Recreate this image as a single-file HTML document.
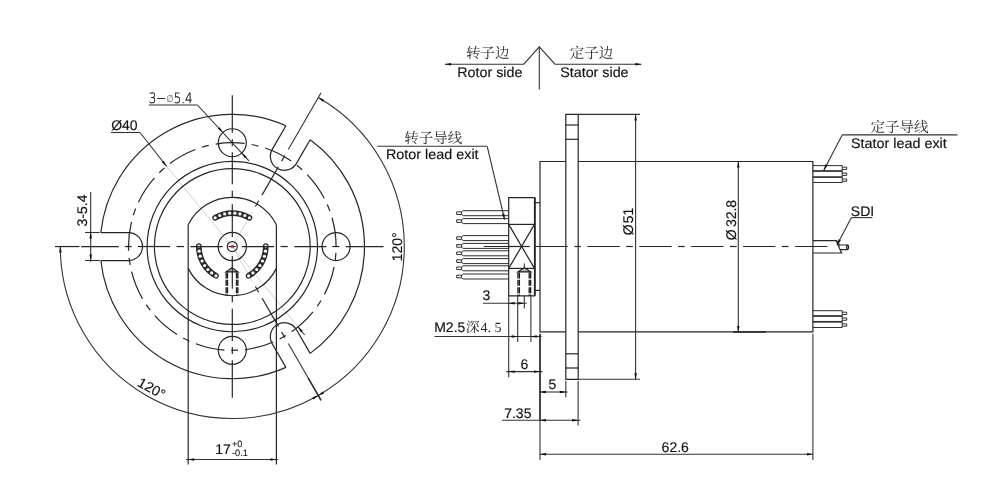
<!DOCTYPE html>
<html lang="zh">
<head>
<meta charset="utf-8">
<title>Slip ring outline drawing</title>
<style>
html,body{margin:0;padding:0;background:#fff;}
body{width:981px;height:487px;overflow:hidden;}
svg{display:block;will-change:transform;}
text{text-rendering:geometricPrecision;}
.o{fill:none;stroke:#262626;stroke-width:1.2;}
.d{fill:none;stroke:#333;stroke-width:1.1;}
.c{fill:none;stroke:#262626;stroke-width:1.2;}
.w{fill:none;stroke:#2e2e2e;stroke-width:1;}
.g{fill:none;stroke:#b4b4b4;stroke-width:.6;}
.h{fill:none;stroke:#1a1a1a;stroke-width:1.35;stroke-dasharray:6 1.4;}
.h2{fill:none;stroke:#1a1a1a;stroke-width:1.3;stroke-dasharray:6 1.4;}
.cone{fill:#bbb;stroke:#1a1a1a;stroke-width:1.1;stroke-linejoin:miter;}
.ah{fill:#111;stroke:none;}
.bead{fill:none;stroke:#2a2a2a;stroke-width:5.7;stroke-linecap:round;}
.bd{fill:#fff;stroke:none;}
.t{font-family:"Liberation Sans",sans-serif;font-size:14px;fill:#111;stroke:#111;stroke-width:.15;}
.ts{font-family:"Liberation Sans",sans-serif;font-size:9.2px;fill:#111;stroke:#111;stroke-width:.1;}
.tc{font-family:"DejaVu Sans","Liberation Sans",sans-serif;font-weight:200;font-size:14.2px;fill:#111;stroke:#111;stroke-width:.3;}
.tz{font-family:"Liberation Serif","Noto Serif CJK SC",serif;font-size:14.5px;fill:#2a2a2a;font-weight:400;stroke:none;}
.tm{font-family:"Liberation Serif","Noto Serif CJK SC",serif;font-size:14px;fill:#2a2a2a;font-weight:400;stroke:none;}
.tm2{font-family:"Liberation Serif","Noto Serif CJK SC",serif;font-size:14px;fill:#2a2a2a;stroke:none;}
</style>
</head>
<body>
<svg width="981" height="487" viewBox="0 0 981 487">
<rect x="0" y="0" width="981" height="487" fill="#fff"/>
<g id="left-view">
<line class="g" x1="166.56" y1="166.23" x2="298.04" y2="326.87"/>
<line class="g" x1="232.3" y1="246.55" x2="252.3" y2="211.91"/>
<line class="g" x1="232.3" y1="246.55" x2="252.3" y2="281.19"/>
<path class="o" d="M285.9 125.71 A132.2 132.2 0 0 0 100.84 232.55"/>
<path class="o" d="M100.84 260.55 A132.2 132.2 0 0 0 285.9 367.39"/>
<path class="o" d="M310.15 353.39 A132.2 132.2 0 0 0 310.15 139.71"/>
<path class="o" d="M310.15 139.71 L296.32 163.66 A14 14 0 0 1 272.08 149.66 L285.9 125.71"/>
<path class="o" d="M100.84 232.55 L128.5 232.55 A14 14 0 0 1 128.5 260.55 L100.84 260.55"/>
<path class="o" d="M285.9 367.39 L272.08 343.44 A14 14 0 0 1 296.32 329.44 L310.15 353.39"/>
<circle class="o" cx="232.3" cy="142.75" r="14"/>
<circle class="o" cx="336.1" cy="246.55" r="14"/>
<circle class="o" cx="232.3" cy="350.35" r="14"/>
<circle class="o" cx="232.3" cy="246.55" r="85.2"/>
<circle class="o" cx="232.3" cy="246.55" r="77.9"/>
<path class="c" d="M336.1 246.55 A103.8 103.8 0 1 0 128.5 246.55 A103.8 103.8 0 1 0 336.1 246.55" stroke-dasharray="29.17 7 7 7"/>
<path class="o" d="M188.2 224.74 A49.2 49.2 0 0 1 276.4 224.74"/>
<path class="o" d="M188.2 268.36 A49.2 49.2 0 0 0 276.4 268.36"/>
<line class="o" x1="188.2" y1="224.74" x2="188.2" y2="464.5"/>
<line class="o" x1="276.4" y1="224.74" x2="276.4" y2="464.5"/>
<circle class="o" cx="232.3" cy="246.55" r="14.1"/>
<path class="bead" d="M249.45 217.77 A33.5 33.5 0 0 0 215.15 217.77"/>
<circle class="bd" cx="249.45" cy="217.77" r="1.6"/>
<circle class="bd" cx="244.85" cy="215.49" r="1.6"/>
<circle class="bd" cx="239.95" cy="213.94" r="1.6"/>
<circle class="bd" cx="234.87" cy="213.15" r="1.6"/>
<circle class="bd" cx="229.73" cy="213.15" r="1.6"/>
<circle class="bd" cx="224.65" cy="213.94" r="1.6"/>
<circle class="bd" cx="219.75" cy="215.49" r="1.6"/>
<circle class="bd" cx="215.15" cy="217.77" r="1.6"/>
<path class="bead" d="M198.8 246.08 A33.5 33.5 0 0 0 215.96 275.79"/>
<circle class="bd" cx="198.8" cy="246.08" r="1.6"/>
<circle class="bd" cx="199.13" cy="251.21" r="1.6"/>
<circle class="bd" cx="200.23" cy="256.23" r="1.6"/>
<circle class="bd" cx="202.09" cy="261.02" r="1.6"/>
<circle class="bd" cx="204.66" cy="265.48" r="1.6"/>
<circle class="bd" cx="207.88" cy="269.48" r="1.6"/>
<circle class="bd" cx="211.68" cy="272.95" r="1.6"/>
<circle class="bd" cx="215.96" cy="275.79" r="1.6"/>
<path class="bead" d="M248.64 275.79 A33.5 33.5 0 0 0 265.8 246.08"/>
<circle class="bd" cx="248.64" cy="275.79" r="1.6"/>
<circle class="bd" cx="252.92" cy="272.95" r="1.6"/>
<circle class="bd" cx="256.72" cy="269.48" r="1.6"/>
<circle class="bd" cx="259.94" cy="265.48" r="1.6"/>
<circle class="bd" cx="262.51" cy="261.02" r="1.6"/>
<circle class="bd" cx="264.37" cy="256.23" r="1.6"/>
<circle class="bd" cx="265.47" cy="251.21" r="1.6"/>
<circle class="bd" cx="265.8" cy="246.08" r="1.6"/>
<line class="h" x1="226.15" y1="272.4" x2="226.15" y2="295.25"/>
<line class="h" x1="237.85" y1="272.4" x2="237.85" y2="295.25"/>
<line class="h2" x1="227.5" y1="272.4" x2="227.5" y2="295.25"/>
<line class="h2" x1="236.5" y1="272.4" x2="236.5" y2="295.25"/>
<polygon class="cone" points="232,267.7 225.95,271.9 238.05,271.9"/>
<line class="c" x1="55" y1="246.55" x2="79.4" y2="246.55"/>
<line class="c" x1="81.2" y1="246.55" x2="118.8" y2="246.55"/>
<line class="c" x1="124.9" y1="246.55" x2="131.7" y2="246.55"/>
<line class="c" x1="138" y1="246.55" x2="170" y2="246.55"/>
<line class="c" x1="176.6" y1="246.55" x2="184" y2="246.55"/>
<line class="c" x1="190.4" y1="246.55" x2="222.6" y2="246.55"/>
<line class="c" x1="228.6" y1="246.55" x2="235.6" y2="246.55"/>
<line class="c" x1="241.8" y1="246.55" x2="274" y2="246.55"/>
<line class="c" x1="280.6" y1="246.55" x2="287.8" y2="246.55"/>
<line class="c" x1="294.3" y1="246.55" x2="326.4" y2="246.55"/>
<line class="c" x1="332.4" y1="246.55" x2="339.4" y2="246.55"/>
<line class="c" x1="345.7" y1="246.55" x2="383.5" y2="246.55"/>
<line class="c" x1="232.3" y1="95.15" x2="232.3" y2="132.75"/>
<line class="c" x1="232.3" y1="139.15" x2="232.3" y2="146.15"/>
<line class="c" x1="232.3" y1="152.15" x2="232.3" y2="184.35"/>
<line class="c" x1="232.3" y1="190.75" x2="232.3" y2="197.75"/>
<line class="c" x1="232.3" y1="204.35" x2="232.3" y2="237.05"/>
<line class="c" x1="232.3" y1="256.05" x2="232.3" y2="288.75"/>
<line class="c" x1="232.3" y1="295.35" x2="232.3" y2="302.35"/>
<line class="c" x1="232.3" y1="308.75" x2="232.3" y2="340.95"/>
<line class="c" x1="232.3" y1="346.95" x2="232.3" y2="353.95"/>
<line class="c" x1="232.3" y1="360.35" x2="232.3" y2="397.75"/>
<circle class="o" cx="232.3" cy="246.55" r="5" fill="#fff"/>
<circle class="o" cx="232.3" cy="246.55" r="1.3" style="fill:#c8304e;stroke:#7a2a3a;stroke-width:.5"/>
<line class="c" x1="255.4" y1="206.54" x2="258.7" y2="200.82"/>
<line class="c" x1="262" y1="195.11" x2="278.4" y2="166.7"/>
<line class="c" x1="281.6" y1="161.16" x2="284.9" y2="155.44"/>
<line class="d" x1="288.3" y1="149.56" x2="321.05" y2="92.83"/>
<line class="c" x1="255.4" y1="286.56" x2="258.7" y2="292.28"/>
<line class="c" x1="262" y1="297.99" x2="278.4" y2="326.4"/>
<line class="c" x1="281.6" y1="331.94" x2="284.9" y2="337.66"/>
<line class="d" x1="288.3" y1="343.54" x2="321.05" y2="400.27"/>
<line class="d" x1="308.3" y1="378.19" x2="321.05" y2="400.27" style="stroke-width:1.5"/>
<path class="d" d="M318.3 395.51 A172 172 0 0 0 318.3 97.59"/>
<path class="d" d="M60.3 246.55 A172 172 0 0 0 318.3 395.51"/>
<polygon class="ah" points="317.87,97.34 324.06,99.67 322.82,101.72"/>
<polygon class="ah" points="317.87,395.76 322.82,391.38 324.06,393.43"/>
<polygon class="ah" points="60.29,246.05 61.61,252.53 59.22,252.57"/>
<polygon class="ah" points="318.74,395.26 313.63,399.46 312.47,397.36"/>
<text class="t" x="0" y="0" transform="translate(401.6 261.2) rotate(-90)">120°</text>
<text class="t" x="0" y="0" transform="translate(136.6 385.4) rotate(29.5)">120°</text>
<line class="d" x1="85" y1="232.5" x2="99.8" y2="232.5"/>
<line class="d" x1="85" y1="260.5" x2="99.8" y2="260.5"/>
<line class="d" x1="90.7" y1="192" x2="90.7" y2="261.8"/>
<polygon class="ah" points="90.7,232 91.9,238.5 89.5,238.5"/>
<polygon class="ah" points="90.7,261 89.5,254.5 91.9,254.5"/>
<text class="t" x="0" y="0" transform="translate(87.4 226.4) rotate(-90)">3-5.4</text>
<line class="d" x1="111" y1="132.5" x2="140" y2="132.5"/>
<line class="d" x1="140" y1="132.5" x2="166.56" y2="166.23"/>
<polygon class="ah" points="166.87,166.61 161.83,162.34 163.68,160.82"/>
<line class="d" x1="298.04" y1="326.87" x2="304.7" y2="335"/>
<polygon class="ah" points="297.73,326.49 302.77,330.76 300.92,332.28"/>
<text class="t" x="111.2" y="129.6">Ø40</text>
<line class="d" x1="148.8" y1="105" x2="197.5" y2="105"/>
<line class="d" x1="197.5" y1="105" x2="248.91" y2="160.76"/>
<polygon class="ah" points="223.15,132.82 217.86,128.86 219.63,127.23"/>
<polygon class="ah" points="241.45,152.68 246.74,156.64 244.97,158.27"/>
<text class="tc" x="148.8" y="102.5" textLength="43.8" lengthAdjust="spacingAndGlyphs">3−<tspan font-size="10" dy="-0.6" style="fill:#555;stroke:none">∅</tspan><tspan dy="0.6">5.4</tspan></text>
<line class="d" x1="186" y1="459.5" x2="278.2" y2="459.5"/>
<polygon class="ah" points="187.7,459.5 194.2,458.3 194.2,460.7"/>
<polygon class="ah" points="276.9,459.5 270.4,460.7 270.4,458.3"/>
<text class="t" x="215.2" y="453.8">17</text>
<text class="ts" x="232" y="447">+0</text>
<text class="ts" x="232" y="456.3">-0.1</text>
</g>
<g id="side-view">
<line class="c" x1="483.7" y1="246.5" x2="529.5" y2="246.5"/>
<line class="c" x1="535.5" y1="246.5" x2="567.8" y2="246.5"/>
<line class="c" x1="574.3" y1="246.5" x2="580.9" y2="246.5"/>
<line class="c" x1="587.4" y1="246.5" x2="619.7" y2="246.5"/>
<line class="c" x1="626.2" y1="246.5" x2="632.8" y2="246.5"/>
<line class="c" x1="639.3" y1="246.5" x2="671.6" y2="246.5"/>
<line class="c" x1="678.1" y1="246.5" x2="684.7" y2="246.5"/>
<line class="c" x1="691.2" y1="246.5" x2="723.5" y2="246.5"/>
<line class="c" x1="730" y1="246.5" x2="736.6" y2="246.5"/>
<line class="c" x1="743.1" y1="246.5" x2="775.4" y2="246.5"/>
<line class="c" x1="781.9" y1="246.5" x2="788.5" y2="246.5"/>
<line class="c" x1="795" y1="246.5" x2="827.3" y2="246.5"/>
<path class="w" d="M508.7 210.7 H463.2 L461.6 211.9 V214.5 L463.2 215.7 H508.7"/>
<path class="w" d="M461.6 211.9 H456.7 V214.5 H461.6"/>
<path class="w" d="M508.7 218.6 H463.2 L461.6 219.8 V222.4 L463.2 223.6 H508.7"/>
<path class="w" d="M461.6 219.8 H456.7 V222.4 H461.6"/>
<path class="w" d="M508.7 235.6 H463.2 L461.6 236.8 V239.4 L463.2 240.6 H508.7"/>
<path class="w" d="M461.6 236.8 H456.7 V239.4 H461.6"/>
<path class="w" d="M508.7 243.4 H463.2 L461.6 244.6 V247.2 L463.2 248.4 H508.7"/>
<path class="w" d="M461.6 244.6 H456.7 V247.2 H461.6"/>
<path class="w" d="M508.7 250.8 H463.2 L461.6 252 V254.6 L463.2 255.8 H508.7"/>
<path class="w" d="M461.6 252 H456.7 V254.6 H461.6"/>
<path class="w" d="M508.7 258.6 H463.2 L461.6 259.8 V262.4 L463.2 263.6 H508.7"/>
<path class="w" d="M461.6 259.8 H456.7 V262.4 H461.6"/>
<path class="w" d="M508.7 265.8 H463.2 L461.6 267 V269.6 L463.2 270.8 H508.7"/>
<path class="w" d="M461.6 267 H456.7 V269.6 H461.6"/>
<path class="w" d="M508.7 274 H463.2 L461.6 275.2 V277.8 L463.2 279 H508.7"/>
<path class="w" d="M461.6 275.2 H456.7 V277.8 H461.6"/>
<path class="o" d="M508.7 197.6 H534.5 V295.8 H508.7 Z" fill="#fff"/>
<line class="o" x1="508.7" y1="224.4" x2="534.5" y2="224.4"/>
<line class="o" x1="508.7" y1="268.4" x2="534.5" y2="268.4"/>
<line class="o" x1="508.7" y1="224.4" x2="534.5" y2="268.4"/>
<line class="o" x1="508.7" y1="268.4" x2="534.5" y2="224.4"/>
<line class="o" x1="535" y1="197.6" x2="535" y2="295.8" style="stroke-width:1.6"/>
<line class="o" x1="535" y1="202.7" x2="540" y2="202.7"/>
<line class="o" x1="535" y1="290.4" x2="540" y2="290.4"/>
<line class="c" x1="508.75" y1="246.5" x2="529.5" y2="246.5"/>
<line class="h" x1="518" y1="272.4" x2="518" y2="295.8"/>
<line class="h" x1="530.6" y1="272.4" x2="530.6" y2="295.8"/>
<line class="h2" x1="519.4" y1="272.4" x2="519.4" y2="295.8"/>
<line class="h2" x1="529.2" y1="272.4" x2="529.2" y2="295.8"/>
<polygon class="cone" points="524.3,267.7 517.8,271.9 530.8,271.9"/>
<line class="d" x1="524.3" y1="263.4" x2="524.3" y2="268.5"/>
<path class="o" d="M565.8 161.5 H540 V331.9 H565.8"/>
<path class="o" d="M578.2 161.5 H812.9 V331.9 H578.2"/>
<path class="o" d="M565.8 114.4 H578.2 V379.3 H565.8 Z"/>
<line class="o" x1="565.8" y1="125" x2="578.2" y2="125"/>
<line class="o" x1="565.8" y1="139.3" x2="578.2" y2="139.3"/>
<line class="o" x1="565.8" y1="353.8" x2="578.2" y2="353.8"/>
<line class="o" x1="565.8" y1="368" x2="578.2" y2="368"/>
<line class="w" x1="812.9" y1="165.6" x2="842.2" y2="165.6"/>
<line class="w" x1="812.9" y1="171" x2="842.2" y2="171" style="stroke-width:1.7"/>
<line class="w" x1="812.9" y1="177.1" x2="842.2" y2="177.1" style="stroke-width:1.7"/>
<line class="w" x1="812.9" y1="182.5" x2="842.2" y2="182.5"/>
<line class="w" x1="842.2" y1="165.6" x2="842.2" y2="182.5"/>
<path class="w" d="M842.2 167.15 H846.7 V169.45 H842.2"/>
<path class="w" d="M842.2 173.1 H846.7 V175.4 H842.2"/>
<path class="w" d="M842.2 179.05 H846.7 V181.35 H842.2"/>
<line class="w" x1="812.9" y1="310.7" x2="842.2" y2="310.7"/>
<line class="w" x1="812.9" y1="316" x2="842.2" y2="316" style="stroke-width:1.7"/>
<line class="w" x1="812.9" y1="321.8" x2="842.2" y2="321.8" style="stroke-width:1.7"/>
<line class="w" x1="812.9" y1="327.5" x2="842.2" y2="327.5"/>
<line class="w" x1="842.2" y1="310.7" x2="842.2" y2="327.5"/>
<path class="w" d="M842.2 312.2 H846.7 V314.5 H842.2"/>
<path class="w" d="M842.2 317.95 H846.7 V320.25 H842.2"/>
<path class="w" d="M842.2 323.9 H846.7 V326.2 H842.2"/>
<path class="o" d="M812.9 240.6 H836 L841.6 253 H812.9"/>
<path class="o" d="M838 245 H847.5 Q849.6 247.3 847.5 249.7 H840.2"/>
<path class="o" d="M836 240.6 Q840 242 838.6 246.5"/>
<ellipse class="o" cx="847.6" cy="247.3" rx="1" ry="2.2"/>
<line class="d" x1="578.2" y1="114.4" x2="640" y2="114.4"/>
<line class="d" x1="578.2" y1="379.3" x2="640" y2="379.3"/>
<line class="d" x1="635.6" y1="114.4" x2="635.6" y2="379.3"/>
<polygon class="ah" points="635.6,113.9 636.8,120.4 634.4,120.4"/>
<polygon class="ah" points="635.6,379.8 634.4,373.3 636.8,373.3"/>
<text class="t" x="0" y="0" transform="translate(632.9 235.3) rotate(-90)">Ø<tspan dx="1.2">51</tspan></text>
<line class="d" x1="738.3" y1="161.5" x2="738.3" y2="331.9"/>
<polygon class="ah" points="738.3,161 739.5,167.5 737.1,167.5"/>
<polygon class="ah" points="738.3,332.4 737.1,325.9 739.5,325.9"/>
<line class="o" x1="733" y1="331.9" x2="766" y2="331.9" style="stroke-width:1.5"/>
<text class="t" x="0" y="0" transform="translate(736.2 240.2) rotate(-90)">Ø<tspan dx="2.2">32.8</tspan></text>
<line class="d" x1="508.7" y1="295.8" x2="508.7" y2="377.3"/>
<line class="d" x1="524.3" y1="295.8" x2="524.3" y2="308.4"/>
<line class="d" x1="517.7" y1="295.8" x2="517.7" y2="341.7"/>
<line class="d" x1="530.9" y1="295.8" x2="530.9" y2="341.7"/>
<line class="d" x1="483" y1="303.2" x2="526.7" y2="303.2"/>
<polygon class="ah" points="508.2,303.2 514.7,302 514.7,304.4"/>
<polygon class="ah" points="524.8,303.2 518.3,304.4 518.3,302"/>
<text class="t" x="482.6" y="300">3</text>
<line class="d" x1="434.5" y1="336.5" x2="541.5" y2="336.5"/>
<polygon class="ah" points="518.2,336.5 511.7,337.7 511.7,335.3"/>
<polygon class="ah" points="530.4,336.5 536.9,335.3 536.9,337.7"/>
<text class="t" x="434.2" y="331.8">M2.5<tspan class="tm" dx="0.4">深</tspan><tspan class="tm2" x="480.6 487.6 494.6">4.5</tspan></text>
<line class="d" x1="506.2" y1="371.6" x2="542.5" y2="371.6"/>
<polygon class="ah" points="508.2,371.6 514.7,370.4 514.7,372.8"/>
<polygon class="ah" points="540.5,371.6 534,372.8 534,370.4"/>
<text class="t" x="520.4" y="368.8">6</text>
<line class="o" x1="540" y1="333.8" x2="540" y2="421" style="stroke-width:1.7"/>
<line class="d" x1="540" y1="421" x2="540" y2="460"/>
<line class="d" x1="540" y1="392" x2="567.6" y2="392"/>
<line class="d" x1="565.8" y1="380.9" x2="565.8" y2="397.3"/>
<polygon class="ah" points="539.5,392 546,390.8 546,393.2"/>
<polygon class="ah" points="566.3,392 559.8,393.2 559.8,390.8"/>
<text class="t" x="548.6" y="389.3">5</text>
<line class="d" x1="502" y1="420.3" x2="580.4" y2="420.3"/>
<line class="d" x1="578.1" y1="380.9" x2="578.1" y2="425.6"/>
<polygon class="ah" points="539.5,420.3 546,419.1 546,421.5"/>
<polygon class="ah" points="578.6,420.3 572.1,421.5 572.1,419.1"/>
<text class="t" x="504.2" y="417.5">7.35</text>
<line class="d" x1="540" y1="454.3" x2="812.9" y2="454.3"/>
<line class="d" x1="812.9" y1="333.7" x2="812.9" y2="460"/>
<polygon class="ah" points="539.5,454.3 546,453.1 546,455.5"/>
<polygon class="ah" points="813.4,454.3 806.9,455.5 806.9,453.1"/>
<text class="t" x="661.6" y="451.8">62.6</text>
<line class="d" x1="377.5" y1="146.3" x2="487.2" y2="146.3"/>
<line class="d" x1="487.2" y1="146.3" x2="504.6" y2="219.6"/>
<polygon class="ah" points="504.72,220.09 502.05,214.04 504.38,213.49"/>
<text class="tz" x="404.2" y="143">转子导线</text>
<text class="t" x="386" y="158.8" textLength="92.6" lengthAdjust="spacingAndGlyphs">Rotor lead exit</text>
<line class="d" x1="842.2" y1="134.9" x2="957.5" y2="134.9"/>
<line class="d" x1="842.2" y1="134.9" x2="823.8" y2="170.2"/>
<polygon class="ah" points="823.57,170.64 825.48,164.32 827.62,165.42"/>
<text class="tz" x="870.4" y="131.6">定子导线</text>
<text class="t" x="851" y="147.6" textLength="95.8" lengthAdjust="spacingAndGlyphs">Stator lead exit</text>
<line class="d" x1="851.4" y1="217.6" x2="872.4" y2="217.6"/>
<line class="d" x1="851.4" y1="217.6" x2="837" y2="245"/>
<polygon class="ah" points="836.77,245.44 838.73,239.13 840.85,240.25"/>
<text class="t" x="850.8" y="216.2">SDI</text>
<path class="d" d="M445 64.2 H523.8 L539.3 46.8 L555 64.2 H641.3"/>
<line class="d" x1="539.3" y1="46.8" x2="539.3" y2="89.5"/>
<polygon class="ah" points="444.5,64.2 451,63 451,65.4"/>
<polygon class="ah" points="641.8,64.2 635.3,65.4 635.3,63"/>
<text class="tz" x="466" y="57.7">转子边</text>
<text class="t" x="457.2" y="76.8" textLength="65.2" lengthAdjust="spacingAndGlyphs">Rotor side</text>
<text class="tz" x="569.8" y="57.7">定子边</text>
<text class="t" x="560.2" y="76.8" textLength="68.4" lengthAdjust="spacingAndGlyphs">Stator side</text>
</g>
</svg>
</body>
</html>
